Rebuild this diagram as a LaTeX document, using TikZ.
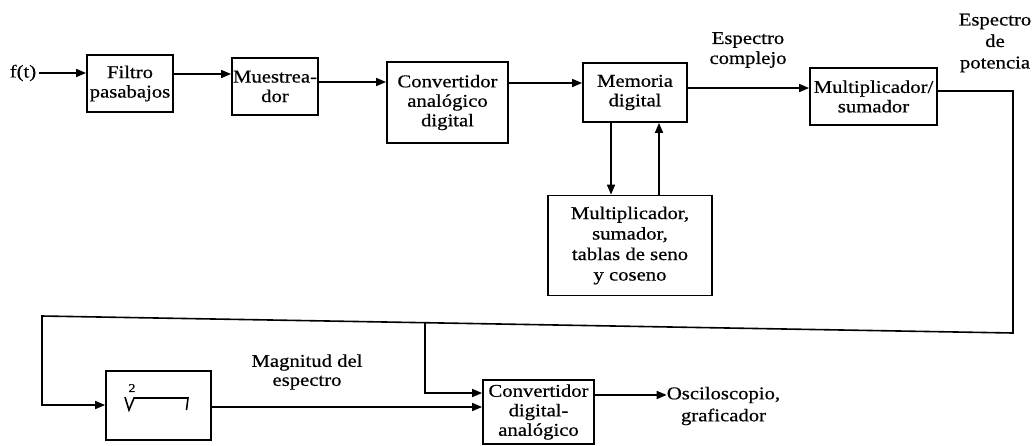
\documentclass[tikz,border=0pt]{standalone}
\usepackage{fontspec}
\setmainfont{Liberation Serif}[FakeStretch=1.15,FakeBold=0.6]
\usetikzlibrary{arrows.meta}
\begin{document}
\begin{tikzpicture}[x=1pt,y=-1pt,
  box/.style={draw, line width=1.8pt, inner sep=0pt, align=center, font=\fontsize{18}{19.5}\selectfont},
  lbl/.style={inner sep=0pt, align=center, font=\fontsize{18}{20}\selectfont},
  arr/.style={-{Triangle[length=10pt,width=8pt]}, line width=1.6pt, line join=miter},
  ln/.style={line width=1.6pt}]
\useasboundingbox (0,0) rectangle (1032,445);
% blocks
\node[lbl] (ft) at (23,73) {f(t)};
\node[box, minimum width=86pt, minimum height=57pt] (filtro) at (130,83.5) {Filtro\\pasabajos};
\node[box, minimum width=86pt, minimum height=57pt] (muest) at (275,86.5) {Muestrea-\\dor};
\node[box, minimum width=121pt, minimum height=81pt] (conv) at (447.5,102.5) {Convertidor\\analógico\\digital};
\node[box, minimum width=104pt, minimum height=59pt] (mem) at (635,92.5) {Memoria\\digital};
\node[box, minimum width=127pt, minimum height=57pt] (mult) at (873.5,96.5) {Multiplicador/\\sumador};
\node[box, minimum width=164pt, minimum height=100pt, font=\fontsize{18}{20.5}\selectfont] (tab) at (630,245.5) {Multiplicador,\\sumador,\\tablas de seno\\y coseno};
\node[box, minimum width=105pt, minimum height=69pt] (sq) at (158.5,405.5) {};
\node[box, minimum width=111pt, minimum height=64pt] (dac) at (538.5,412) {Convertidor\\digital-\\analógico};
% labels
\node[lbl] (lcomp) at (748,50) {Espectro\\complejo};
\node[lbl, font=\fontsize{18}{21.5}\selectfont] (lpot) at (995,43) {Espectro\\de\\potencia};
\node[lbl, font=\fontsize{18}{19}\selectfont] (lmag) at (307,372) {Magnitud del\\espectro};
\node[lbl, font=\fontsize{18}{22}\selectfont] (osc) at (723.5,406) {Osciloscopio,\\graficador};
% square-root symbol inside sq
\node[inner sep=0pt, font=\fontsize{12}{12}\selectfont] (idx) at (132,388) {2};
\draw[line width=1.6pt, line join=miter] (125,397) -- (129,410) -- (134,398) -- (188,398) -- (186.5,410);
% helper rows
\coordinate (r1) at (0,74);
\coordinate (r2) at (0,82);
\coordinate (r3) at (0,83);
\coordinate (r4) at (0,88);
\coordinate (c1) at (611,0);
\coordinate (c2) at (659,0);
\coordinate (ra) at (1013,91);
\coordinate (rb) at (1013,333);
\coordinate (lb) at (42,316);
\coordinate (la) at (42,405);
\coordinate (br) at (425,322.7);
\coordinate (bd) at (425,393);
\coordinate (r5) at (0,407);
\coordinate (r6) at (0,395);
% connectors
\draw[arr] ([xshift=3pt]ft.east) -- (filtro.west |- ft);
\draw[arr] (filtro.east |- r1) -- (muest.west |- r1);
\draw[arr] (muest.east |- r2) -- (conv.west |- r2);
\draw[arr] (conv.east |- r3) -- (mem.west |- r3);
\draw[arr] (mem.east |- r4) -- (mult.west |- r4);
\draw[arr] (mem.south -| c1) -- (tab.north -| c1);
\draw[arr] (tab.north -| c2) -- (mem.south -| c2);
\draw[arr] (mult.east |- ra) -- (ra) -- (rb) -- (lb) -- (la) -- (sq.west |- la);
\draw[arr] (br) -- (bd) -- (dac.west |- bd);
\draw[arr] (sq.east |- r5) -- (dac.west |- r5);
\draw[arr] (dac.east |- r6) -- (osc.west |- r6);
\end{tikzpicture}
\end{document}
